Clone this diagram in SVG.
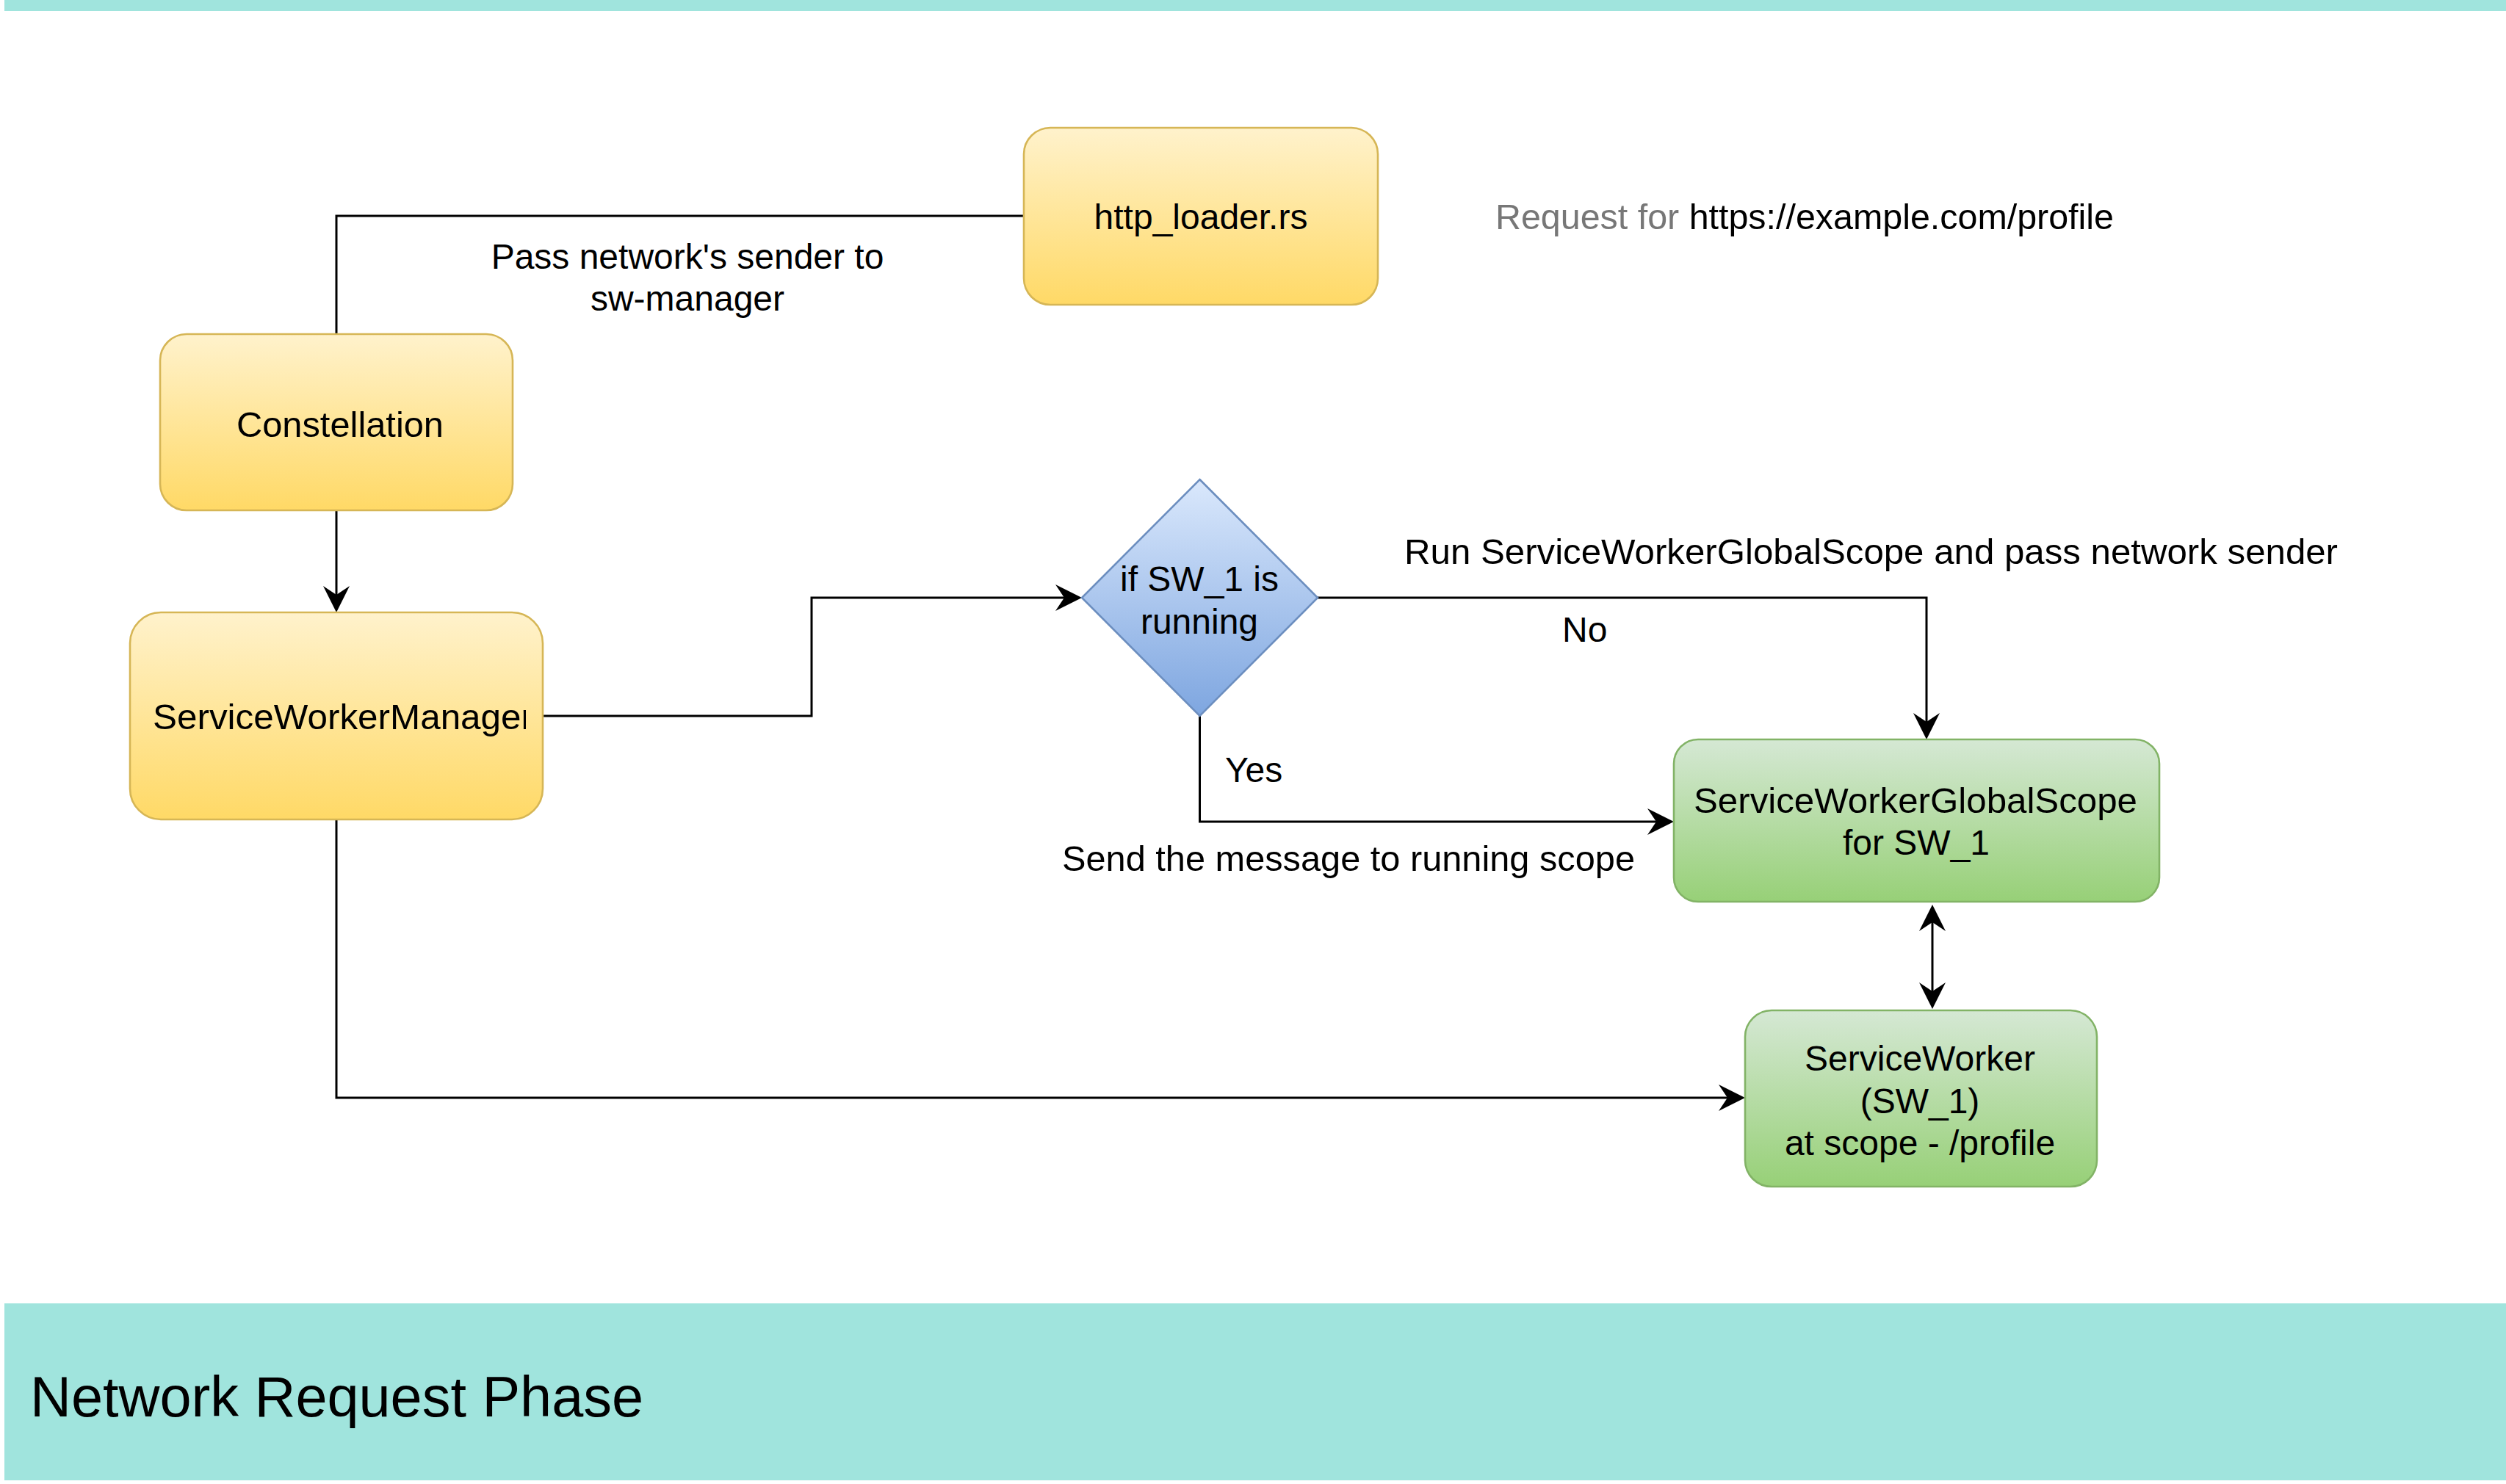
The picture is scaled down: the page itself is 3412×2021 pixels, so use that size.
<svg xmlns="http://www.w3.org/2000/svg" width="3412" height="2021" viewBox="0 0 3412 2021">
  <style>
    .t { font-family: "Liberation Sans", Arial, Helvetica, sans-serif; font-size: 48px; fill: #000000; }
    .c { text-anchor: middle; }
    .band { fill: #a0e4dd; }
    .yel { fill: url(#gY); stroke: #d6b656; stroke-width: 2.6; }
    .grn { fill: url(#gG); stroke: #82b366; stroke-width: 2.6; }
    .blu { fill: url(#gB); stroke: #6c8ebf; stroke-width: 2.6; }
    .edge { fill: none; stroke: #000000; stroke-width: 3; }
  </style>
  <defs>
    <linearGradient id="gY" x1="0" y1="0" x2="0" y2="1">
      <stop offset="0" stop-color="#fff2cc"/>
      <stop offset="1" stop-color="#ffd966"/>
    </linearGradient>
    <linearGradient id="gG" x1="0" y1="0" x2="0" y2="1">
      <stop offset="0" stop-color="#d5e8d4"/>
      <stop offset="1" stop-color="#97d077"/>
    </linearGradient>
    <linearGradient id="gB" x1="0" y1="0" x2="0" y2="1">
      <stop offset="0" stop-color="#dae8fc"/>
      <stop offset="1" stop-color="#7ea6e0"/>
    </linearGradient>
    <marker id="arr" markerUnits="userSpaceOnUse" viewBox="-12 -18 36 36" markerWidth="36" markerHeight="36" refX="0" refY="0" orient="auto-start-reverse" overflow="visible">
      <path d="M24,0 L-12,-18 L0,0 L-12,18 Z" fill="#000000"/>
    </marker>
    <clipPath id="clipSWM">
      <rect x="177" y="834" width="539" height="282"/>
    </clipPath>
  </defs>

  <rect class="band" x="6" y="0" width="3406" height="15"/>
  <g id="phase-band">
    <rect class="band" x="6" y="1775" width="3406" height="241"/>
    <text class="t" x="41" y="1929" style="font-size:78px" textLength="835" lengthAdjust="spacingAndGlyphs">Network Request Phase</text>
  </g>

  <g id="connectors">
    <path class="edge" d="M1394,294 L458,294 L458,455"/>
    <path class="edge" d="M458,695 L458,810" marker-end="url(#arr)"/>
    <path class="edge" d="M739,975 L1105,975 L1105,814 L1449,814" marker-end="url(#arr)"/>
    <path class="edge" d="M1794,814 L2623,814 L2623,983" marker-end="url(#arr)"/>
    <path class="edge" d="M1633.5,975 L1633.5,1119 L2255,1119" marker-end="url(#arr)"/>
    <path class="edge" d="M2631,1256 L2631,1350" marker-start="url(#arr)" marker-end="url(#arr)"/>
    <path class="edge" d="M458,1116 L458,1495 L2352,1495" marker-end="url(#arr)"/>
    <text class="t c" x="936" y="366">Pass network's sender to</text>
    <text class="t c" x="936" y="423">sw-manager</text>
    <text class="t" x="1912" y="768" textLength="1271" lengthAdjust="spacingAndGlyphs">Run ServiceWorkerGlobalScope and pass network sender</text>
    <text class="t" x="2127" y="874">No</text>
    <text class="t" x="1668" y="1065">Yes</text>
    <text class="t" x="1446" y="1186" textLength="780" lengthAdjust="spacingAndGlyphs">Send the message to running scope</text>
  </g>

  <g id="http-loader">
    <rect class="yel" x="1394" y="174" width="482" height="241" rx="36" ry="36"/>
    <text class="t c" x="1635" y="312">http_loader.rs</text>
  </g>

  <g id="request-label">
    <text class="t" x="2036" y="312" textLength="842" lengthAdjust="spacingAndGlyphs"><tspan fill="#777777">Request for </tspan><tspan fill="#000000">https://example.com/profile</tspan></text>
  </g>

  <g id="constellation">
    <rect class="yel" x="218" y="455" width="480" height="240" rx="36" ry="36"/>
    <text class="t" x="322" y="595" textLength="282" lengthAdjust="spacingAndGlyphs">Constellation</text>
  </g>

  <g id="service-worker-manager">
    <rect class="yel" x="177" y="834" width="562" height="282" rx="42" ry="42"/>
    <text class="t" x="208" y="993" textLength="518" lengthAdjust="spacingAndGlyphs" clip-path="url(#clipSWM)">ServiceWorkerManager</text>
  </g>

  <g id="decision">
    <path class="blu" d="M1633.5,653 L1794,814 L1633.5,975 L1473,814 Z"/>
    <text class="t c" x="1633" y="805">if SW_1 is</text>
    <text class="t c" x="1633" y="863">running</text>
  </g>

  <g id="global-scope">
    <rect class="grn" x="2279" y="1007" width="661" height="221" rx="33" ry="33"/>
    <text class="t" x="2306" y="1107" textLength="604" lengthAdjust="spacingAndGlyphs">ServiceWorkerGlobalScope</text>
    <text class="t c" x="2609" y="1164">for SW_1</text>
  </g>

  <g id="service-worker">
    <rect class="grn" x="2376" y="1376" width="479" height="240" rx="36" ry="36"/>
    <text class="t c" x="2614" y="1458">ServiceWorker</text>
    <text class="t c" x="2614" y="1516">(SW_1)</text>
    <text class="t c" x="2614" y="1573">at scope - /profile</text>
  </g>
</svg>
